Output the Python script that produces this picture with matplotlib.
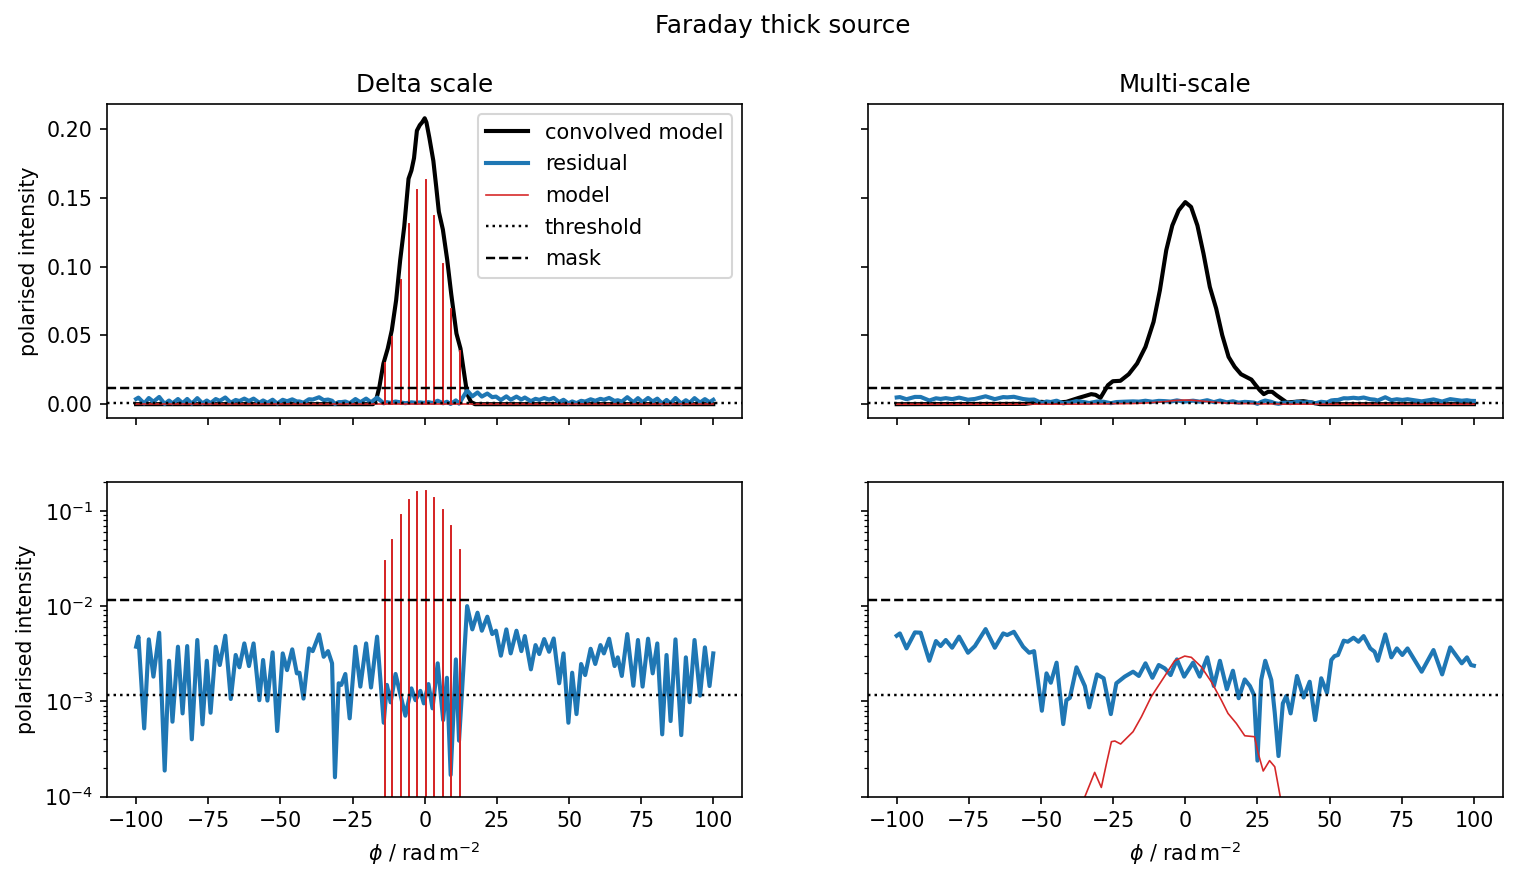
import numpy as np
import matplotlib
matplotlib.use("Agg")
import matplotlib.pyplot as plt

# ---------------- data ----------------
phi_res_delta = [
    -100.0, -99.2, -97.2, -95.6, -94.0, -92.0, -90.1, -88.6, -87.4, -85.5,
    -83.9, -82.3, -80.7, -78.8, -77.0, -75.5, -74.2, -72.4, -71.0, -69.1,
    -67.2, -65.5, -64.2, -62.5, -60.9, -59.3, -57.3, -56.0, -54.5, -52.7,
    -51.1, -49.2, -47.7, -45.9, -44.3, -43.4, -42.0, -40.1, -38.8, -36.6,
    -35.0, -33.5,
    -32.1, -31.1, -29.8, -28.9, -27.5, -26.0, -24.0, -22.3, -20.3, -18.6,
    -16.5, -14.2, -13.1, -11.8, -10.1, -6.7, -4.6, -3.2, -1.5, -0.3,
    1.3, 2.7, 4.5, 6.4, 7.7, 9.0, 10.8, 11.9, 14.7, 16.5,
    18.3, 19.8, 21.7, 23.4, 24.7, 26.4, 28.3, 29.8, 31.8, 33.5,
    34.7, 36.8, 38.4, 39.7, 41.4, 43.1, 44.7, 46.6, 48.1, 49.8,
    51.1, 52.6, 54.2, 55.6, 57.5, 59.1, 60.9, 62.1, 63.9, 65.8,
    66.9, 68.3, 70.2, 72.3, 73.9, 75.5, 77.4, 79.0, 80.6, 82.3,
    83.8, 85.2, 86.9, 88.9, 90.5, 91.8, 93.5, 95.4, 97.1, 98.7,
    100.0,
]
res_delta = [
    0.00375, 0.00478, 0.000521, 0.00448, 0.00182, 0.00526, 0.000188, 0.00267, 0.000612, 0.00375,
    0.000748, 0.00381, 0.000400, 0.00441, 0.000574, 0.00267, 0.000760, 0.00375, 0.00241, 0.00489,
    0.00106, 0.00307, 0.00228, 0.00406, 0.00235, 0.00406, 0.00103, 0.00272, 0.00102, 0.00327,
    0.000489, 0.00319, 0.00213, 0.00352, 0.00197, 0.00200, 0.00107, 0.00360, 0.00337, 0.00505,
    0.00294, 0.00337,
    0.00251, 0.000160, 0.00155, 0.00149, 0.00194, 0.000664, 0.00375, 0.00143, 0.00406, 0.00140,
    0.00478, 0.000597, 0.00149, 0.000977, 0.00194, 0.000708, 0.00137, 0.00103, 0.00129, 0.000953,
    0.00152, 0.000846, 0.00251, 0.000637, 0.00177, 0.000169, 0.00276, 0.000387, 0.0100, 0.00570,
    0.00853, 0.00552, 0.00775, 0.00509, 0.00552, 0.00302, 0.00570, 0.00319, 0.00552, 0.00337,
    0.00485, 0.00217, 0.00390, 0.00314, 0.00451, 0.00332, 0.00458, 0.00155, 0.00319, 0.000597,
    0.00200, 0.000736, 0.00247, 0.00189, 0.00357, 0.00247, 0.00390, 0.00319, 0.00455, 0.00235,
    0.00290, 0.00185, 0.00509, 0.00146, 0.00441, 0.00143, 0.00455, 0.00197, 0.00406, 0.000451,
    0.00307, 0.000622, 0.00448, 0.000443, 0.00290, 0.00098, 0.00441, 0.00115, 0.00369, 0.00145,
    0.00319,
]

phi_res_ms = [
    -100.0, -98.9, -96.6, -93.7, -91.7, -88.7, -86.4, -84.8, -83.0, -80.8,
    -78.4, -75.3, -72.9, -69.2, -66.0, -63.1, -61.7, -59.4, -56.2, -54.1,
    -52.4, -49.7, -48.1, -46.6, -44.6, -42.3, -41.2, -40.0, -37.7, -34.8,
    -33.3, -30.6, -28.3, -25.8, -23.9, -21.0, -18.1, -16.1, -13.8, -11.4,
    -9.2, -7.1, -5.1, -2.9, -0.4, 2.7, 5.0, 7.6, 9.9, 12.0,
    14.4, 16.5, 18.5, 20.6, 22.4, 23.8, 25.0, 26.3, 27.7, 29.8,
    31.0, 32.3, 33.8, 35.0, 36.5, 38.7, 41.0, 43.1, 45.0, 47.1,
    49.1, 50.6, 51.7, 52.9, 54.9, 56.3, 58.3, 60.0, 61.8, 64.1,
    65.6, 66.7, 69.3, 71.4, 73.3, 75.2, 77.0, 81.9, 86.0, 89.0,
    91.8, 95.8, 97.6, 99.0, 100.0,
]
res_ms = [
    0.00489, 0.00517, 0.00360, 0.00530, 0.00526, 0.00267, 0.00430, 0.00381, 0.00441, 0.00366,
    0.00478, 0.00324, 0.00381, 0.00574, 0.00366, 0.00517, 0.00497, 0.00538, 0.00375, 0.00324,
    0.00337, 0.000798, 0.00197, 0.00157, 0.00255, 0.000578, 0.00103, 0.00109, 0.00228, 0.00145,
    0.000865, 0.00192, 0.00175, 0.000736, 0.00155, 0.00182, 0.00205, 0.00185, 0.00251, 0.00177,
    0.00241, 0.00222, 0.00189, 0.00276, 0.00182, 0.00255, 0.00182, 0.00290, 0.00145, 0.00267,
    0.00134, 0.00210, 0.00108, 0.00170, 0.00145, 0.00117, 0.000239, 0.00168, 0.00267, 0.00168,
    0.00076, 0.000267, 0.000953, 0.00114, 0.000748, 0.00185, 0.00110, 0.00161, 0.000637, 0.00175,
    0.00123, 0.00272, 0.00299, 0.00307, 0.00434, 0.00423, 0.00466, 0.00423, 0.00485, 0.00360,
    0.00332, 0.00267, 0.00505, 0.00290, 0.00360, 0.00307, 0.00360, 0.00205, 0.00346, 0.00192,
    0.00369, 0.00251, 0.00290, 0.00241, 0.00237,
]

phi_conv_delta = [
    -100.0, -17.9, -16.7, -15.7, -14.3, -12.8, -11.4, -9.9, -8.5, -7.1,
    -5.6, -4.6, -3.7, -2.7, -1.7, -0.9, 0.0, 0.6, 1.6, 3.0,
    4.0, 4.9, 6.3, 7.8, 9.2, 11.0, 12.4, 13.5, 14.7, 16.0,
    17.4, 100.0,
]
conv_delta = [
    0.0, 0.0, 0.0041, 0.0126, 0.0296, 0.0405, 0.0538, 0.0756, 0.1047, 0.129,
    0.164, 0.170, 0.179, 0.199, 0.203, 0.205, 0.208, 0.205, 0.194, 0.177,
    0.158, 0.140, 0.127, 0.105, 0.080, 0.0514, 0.0405, 0.0247, 0.0078, 0.0017,
    0.0, 0.0,
]

phi_conv_ms = [
    -100.0, -55.6, -49.9, -45.5, -41.2, -36.9, -32.6, -31.1, -29.4, -26.8,
    -25.1, -22.5, -19.6, -16.7, -13.8, -11.0, -8.8, -6.6, -4.5, -2.3,
    0.0, 2.0, 4.2, 6.3, 8.5, 10.7, 12.8, 15.0, 17.1, 19.3,
    21.5, 22.9, 24.4, 25.8, 27.2, 28.7, 30.1, 31.6, 33.7, 35.2,
    38.0, 40.9, 43.8, 46.7, 100.0,
]
conv_ms = [
    0.0, 0.0002, 0.0017, 0.0010, 0.0017, 0.0046, 0.0073, 0.0068, 0.0046, 0.0138,
    0.0167, 0.0170, 0.0218, 0.0296, 0.0417, 0.0599, 0.0829, 0.112, 0.130, 0.141,
    0.147, 0.1435, 0.130, 0.1096, 0.0853, 0.0696, 0.0502, 0.0344, 0.0272, 0.0218,
    0.0194, 0.0179, 0.0138, 0.0102, 0.0073, 0.0090, 0.0090, 0.0065, 0.0034, 0.0012,
    0.0017, 0.0022, 0.0012, 0.0, 0.0,
]

spike_phi = [-13.8, -11.4, -8.2, -5.5, -2.6, 0.3, 3.2, 6.2, 9.0, 12.2]
spike_amp = [0.0296, 0.049, 0.0907, 0.131, 0.156, 0.163, 0.137, 0.102, 0.069, 0.039]

phi_model_ms = [
    -100.0, -36.0, -34.8, -31.4, -29.1, -27.3, -25.6, -24.4, -22.4, -18.1,
    -15.2, -11.8, -7.1, -3.7, -0.2, 2.1, 5.5, 9.0, 12.5, 14.8,
    17.7, 20.6, 24.0, 25.2, 27.0, 29.2, 31.0, 32.9, 34.0, 100.0,
]
model_ms = [
    0.0, 3e-5, 1.0e-4, 1.80e-4, 1.25e-4, 2.24e-4, 3.78e-4, 3.84e-4, 3.57e-4, 4.81e-4,
    6.90e-4, 1.12e-3, 1.85e-3, 2.67e-3, 2.99e-3, 2.90e-3, 2.31e-3, 1.61e-3, 1.03e-3, 7.48e-4,
    5.87e-4, 4.36e-4, 4.26e-4, 2.90e-4, 1.86e-4, 2.39e-4, 2.06e-4, 1.0e-4, 3e-5, 0.0,
]

threshold = 0.00116
mask = 0.0116
phi_limits = [-100.0, 100.0]

# model of the delta-scale run: zero everywhere except the clean components
phi_model_delta = [phi_limits[0]]
model_delta = [0.0]
for p, a in zip(spike_phi, spike_amp):
    phi_model_delta += [p, p, p]
    model_delta += [0.0, a, 0.0]
phi_model_delta.append(phi_limits[1])
model_delta.append(0.0)

# ---------------- figure ----------------
DPI = 148
fig, axes = plt.subplots(2, 2, sharex=True, sharey="row",
                         figsize=(1517 / DPI, 881 / DPI), dpi=DPI)
fig.subplots_adjust(left=0.0707, right=0.9906, top=0.882, bottom=0.0957,
                    wspace=0.198, hspace=0.2025)

runs = [
    (phi_conv_delta, conv_delta, phi_res_delta, res_delta, phi_model_delta, model_delta),
    (phi_conv_ms, conv_ms, phi_res_ms, res_ms, phi_model_ms, model_ms),
]

for col, (pc, c, pr, r, pm, m) in enumerate(runs):
    ax = axes[0, col]
    ax.plot(pc, c, color="black", lw=2, label="convolved model")
    ax.plot(pr, r, color="tab:blue", lw=2, label="residual")
    ax.plot(pm, m, color="tab:red", lw=0.8, label="model")
    ax.axhline(threshold, color="black", ls=":", lw=1.2, label="threshold")
    ax.axhline(mask, color="black", ls="--", lw=1.2, label="mask")

    axl = axes[1, col]
    axl.plot(pr, r, color="tab:blue", lw=2)
    axl.plot(pm, m, color="tab:red", lw=0.8)
    axl.axhline(threshold, color="black", ls=":", lw=1.2)
    axl.axhline(mask, color="black", ls="--", lw=1.2)
    axl.set_yscale("log")
    axl.set_xlabel(r"$\phi$ / $\mathrm{rad\,m^{-2}}$")

axes[1, 0].set_ylim(1e-4, 0.2)
axes[0, 0].set_title("Delta scale")
axes[0, 1].set_title("Multi-scale")
axes[0, 0].set_ylabel("polarised intensity")
axes[1, 0].set_ylabel("polarised intensity")
axes[0, 0].legend(loc="upper right", prop={"size": 10.15}, labelspacing=0.56)
fig.suptitle("Faraday thick source", x=0.516, y=0.984)

fig.savefig("out.png", dpi=DPI)
